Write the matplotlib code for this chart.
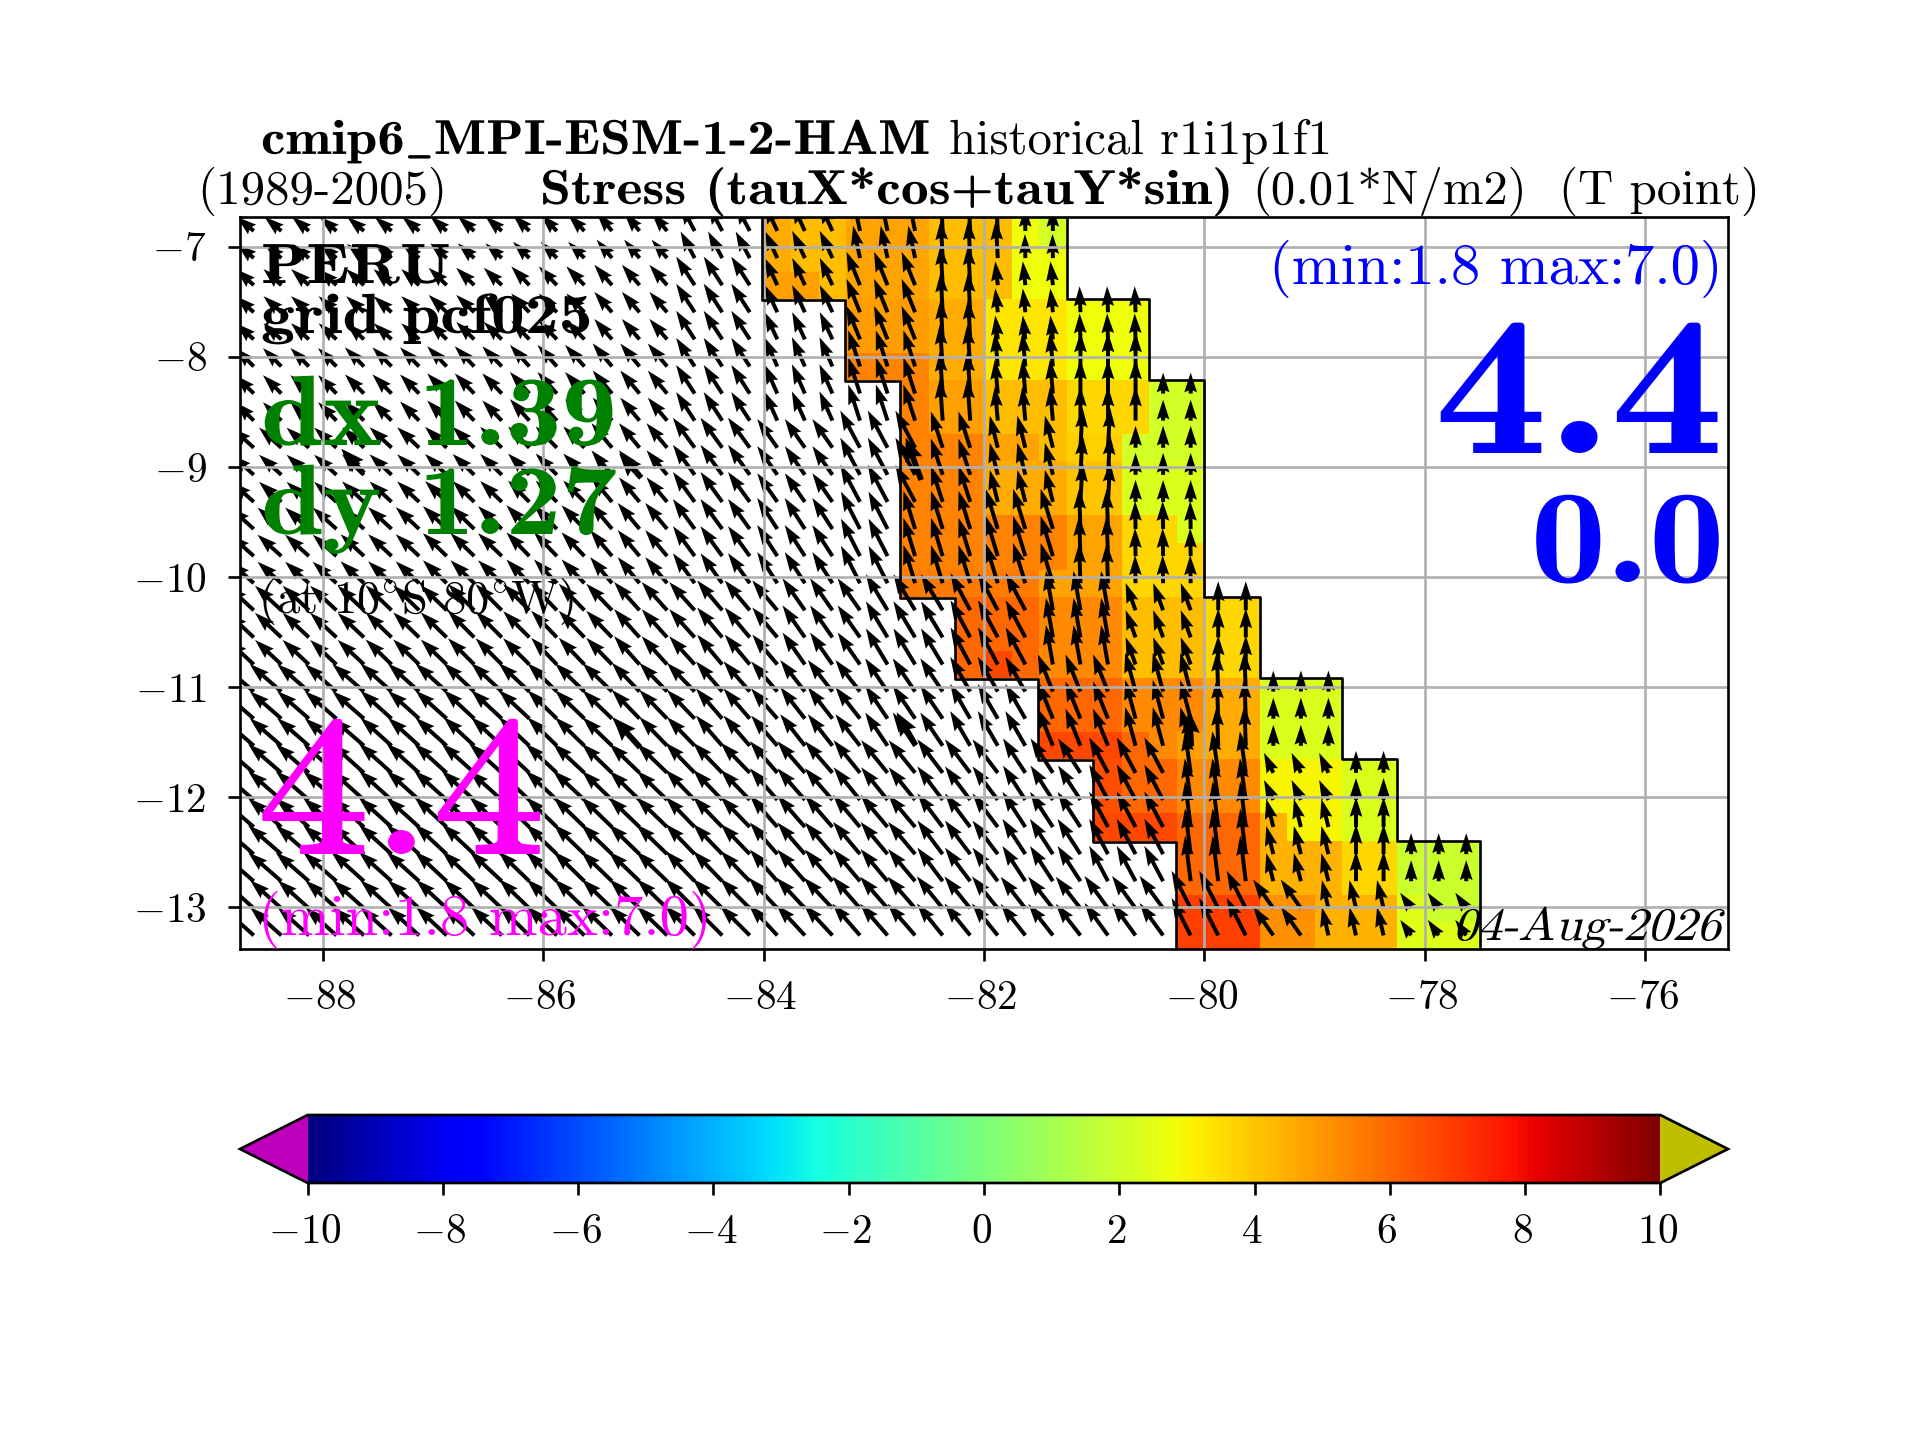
import numpy as np
import matplotlib
matplotlib.use('Agg')
import matplotlib.pyplot as plt
import matplotlib.patheffects as pe
from matplotlib.transforms import Affine2D, ScaledTranslation

plt.rcParams['font.family'] = 'cmr10'
plt.rcParams['mathtext.fontset'] = 'cm'
plt.rcParams['axes.unicode_minus'] = False
plt.rcParams['axes.formatter.use_mathtext'] = True

# parameters
x_ticks = [-88, -86, -84, -82, -80, -78, -76]
y_ticks = [-7, -8, -9, -10, -11, -12, -13]
cbar_ticks = [-10, -8, -6, -4, -2, 0, 2, 4, 6, 8, 10]

# first coloured column of each row, every row has 11 coloured columns
row_start = [19, 19, 19, 22, 22, 22, 24, 24, 24, 24, 24, 24, 24, 24,
             26, 26, 26, 29, 29, 29, 31, 31, 31, 34, 34, 34, 34]

# stress value, 11 per row from row_start
stress = [
    [4.6, 4.2, 4.2, 4.7, 4.7, 4.7, 4.2, 4.2, 4.2, 2.8, 2.1],
    [4.6, 4.2, 4.2, 4.7, 4.7, 4.7, 4.2, 4.2, 4.2, 2.8, 2.8],
    [4.8, 4.8, 4.2, 4.7, 4.7, 4.7, 4.2, 4.2, 4.2, 2.8, 2.8],
    [4.9, 4.9, 4.9, 4.6, 4.6, 3.3, 3.3, 3.3, 2.8, 2.8, 2.8],
    [4.9, 4.9, 4.9, 4.6, 4.6, 3.3, 3.3, 3.3, 2.8, 2.8, 2.8],
    [5.4, 5.4, 5.4, 4.6, 4.6, 3.3, 3.3, 3.3, 2.8, 2.8, 2.8],
    [5.4, 4.8, 4.8, 4.2, 4.2, 4.2, 3.6, 3.6, 3.6, 2.1, 2.1],
    [5.4, 4.8, 4.8, 4.2, 4.2, 4.2, 3.6, 3.6, 3.6, 2.1, 2.1],
    [5.4, 5.4, 5.4, 4.7, 4.7, 4.2, 3.8, 3.8, 2.1, 2.1, 2.1],
    [5.4, 5.4, 5.4, 4.6, 4.6, 4.6, 4.0, 4.0, 2.3, 2.3, 2.3],
    [5.4, 5.4, 5.4, 4.6, 4.6, 4.6, 4.0, 4.0, 2.3, 2.3, 2.3],
    [5.4, 5.4, 5.4, 5.4, 5.4, 5.4, 4.7, 4.7, 3.6, 3.6, 2.3],
    [5.4, 5.4, 5.4, 5.4, 5.4, 5.4, 4.7, 4.7, 3.6, 3.6, 3.6],
    [5.6, 5.6, 5.6, 5.6, 5.6, 4.7, 4.7, 4.7, 3.6, 3.6, 3.6],
    [6.0, 6.0, 6.0, 5.3, 5.3, 5.3, 4.2, 4.2, 4.2, 3.6, 3.6],
    [6.0, 6.0, 6.0, 5.3, 5.3, 5.3, 4.2, 4.2, 4.2, 3.6, 3.6],
    [6.0, 6.7, 6.0, 5.3, 5.3, 5.3, 4.2, 4.2, 4.2, 3.6, 3.6],
    [6.0, 6.0, 6.0, 5.3, 5.3, 5.3, 4.6, 4.6, 2.3, 2.3, 2.3],
    [6.0, 6.0, 6.0, 5.3, 5.3, 5.3, 4.6, 4.6, 2.3, 2.3, 2.3],
    [6.7, 6.7, 6.7, 6.0, 5.3, 4.8, 4.6, 4.6, 2.3, 2.3, 2.3],
    [6.5, 6.0, 6.0, 5.3, 5.3, 5.3, 3.0, 3.0, 3.0, 2.3, 2.3],
    [6.5, 6.0, 6.0, 5.3, 5.3, 5.3, 3.0, 3.0, 3.0, 2.3, 2.3],
    [6.7, 6.7, 6.7, 6.0, 6.0, 6.0, 4.4, 3.0, 3.0, 2.3, 2.3],
    [6.0, 6.0, 6.0, 4.4, 4.4, 4.4, 3.6, 3.6, 1.9, 1.9, 1.9],
    [6.0, 6.0, 6.0, 4.4, 4.4, 4.4, 3.6, 3.6, 1.9, 1.9, 1.9],
    [6.8, 6.8, 6.8, 5.1, 5.1, 4.4, 4.4, 4.4, 2.4, 1.9, 1.9],
    [6.8, 6.8, 6.8, 5.1, 5.1, 4.4, 4.4, 4.4, 2.4, 2.4, 2.4],
]

# arrows come in blocks: group of each row, then per group the first column of
# each block with the angle (deg west of north) and length of its arrows
arrow_group = [0, 0, 1, 1, 1, 2, 2, 2, 3, 3, 3, 4, 4, 4, 5, 5, 5, 6, 6, 6, 7, 7, 8, 8, 8, 9, 9]
arrow_edges = [
    [0, 1, 4, 7, 10, 13, 16, 19, 22, 25, 28],
    [0, 1, 4, 7, 10, 13, 16, 19, 22, 25, 27, 30],
    [0, 1, 4, 7, 10, 13, 16, 19, 22, 25, 27, 30, 33],
    [0, 1, 4, 7, 10, 13, 16, 19, 22, 25, 27, 30, 32],
    [0, 1, 4, 7, 10, 13, 16, 19, 22, 24, 27, 30, 32],
    [0, 2, 5, 8, 11, 14, 17, 20, 23, 26, 29, 32, 35],
    [0, 2, 5, 8, 11, 14, 17, 20, 23, 26, 29, 32, 35, 37],
    [0, 1, 4, 7, 10, 13, 16, 19, 22, 25, 28, 31, 34, 37, 40],
    [0, 1, 4, 7, 10, 13, 16, 19, 22, 25, 28, 31, 34, 37, 40, 42],
    [0, 1, 4, 7, 10, 13, 16, 19, 22, 25, 28, 31, 34, 37, 39, 42],
]
arrow_angle = [
    [50, 50, 50, 48, 45, 40, 28, 25, 12, 3, 1],
    [48, 48, 48, 46, 44, 41, 33, 25, 22, 3, 6, 2],
    [45, 45, 45, 44, 42, 40, 33, 24, 18, 4, 5, 0, 0],
    [48, 48, 47, 46, 45, 40, 36, 35, 28, 18, 14, -3, 0],
    [48, 48, 47, 46, 44, 40, 36, 33, 27, 17, 17, 2, 1],
    [47, 47, 46, 45, 44, 42, 40, 35, 31, 28, 10, 20, 0],
    [49, 49, 48, 47, 46, 44, 41, 38, 34, 30, 22, 15, 2, 0],
    [49, 49, 48, 48, 47, 46, 44, 41, 39, 37, 33, 28, 8, 25, 0],
    [49, 49, 48, 47, 46, 46, 44, 41, 40, 37, 33, 28, 7, 14, 0, 0],
    [48, 48, 48, 47, 46, 46, 45, 43, 41, 39, 38, 36, 27, 35, 13, 35],
]
arrow_len = [
    [2.2, 2.2, 2.2, 2.2, 2.3, 2.4, 3.0, 3.0, 3.3, 3.8, 2.4],
    [2.4, 2.4, 2.4, 2.5, 2.6, 2.7, 3.4, 3.0, 3.6, 4.0, 2.4, 2.6],
    [2.6, 2.6, 2.7, 2.8, 2.9, 3.0, 3.4, 3.2, 3.8, 4.2, 3.4, 3.4, 2.1],
    [3.0, 3.0, 3.0, 3.0, 3.0, 3.2, 3.7, 3.5, 4.2, 3.8, 3.3, 4.0, 2.2],
    [3.2, 3.2, 3.2, 3.3, 3.3, 3.4, 3.7, 3.7, 4.2, 4.0, 4.2, 4.0, 2.8],
    [3.6, 3.6, 3.6, 3.7, 3.7, 3.8, 3.9, 3.9, 4.2, 4.2, 4.0, 2.9, 2.9],
    [4.2, 4.2, 4.2, 4.2, 4.1, 4.0, 4.0, 4.0, 4.0, 4.0, 4.0, 4.0, 4.0, 2.1],
    [4.4, 4.4, 4.4, 4.4, 4.3, 4.2, 4.2, 4.2, 4.2, 4.2, 4.1, 4.0, 4.2, 2.2, 2.2],
    [4.4, 4.4, 4.4, 4.4, 4.3, 4.3, 4.2, 4.2, 4.2, 4.2, 4.2, 4.0, 4.6, 2.9, 3.0, 2.1],
    [4.2, 4.2, 4.2, 4.2, 4.2, 4.2, 4.2, 4.2, 4.2, 4.1, 4.0, 4.0, 4.2, 3.5, 2.9, 1.9],
]

# the few heavier arrows
big_lon = [-87.63, -85.11, -82.57, -85.12, -82.62, -80.12]
big_lat = [-9.06, -9.10, -9.12, -11.55, -11.53, -11.54]
big_angle = [42, 42, 20, 42, 30, 3]
big_len = [3.3, 3.3, 4.5, 4.0, 3.8, 3.6]

# grid
lon_edges = np.linspace(-88.75, -75.25, 55)
lat_edges = np.linspace(-6.735, -13.38, 28)
lon_c = 0.5 * (lon_edges[:-1] + lon_edges[1:])
lat_c = 0.5 * (lat_edges[:-1] + lat_edges[1:])

field = np.full((27, 54), np.nan)
xq, yq, uq, vq = [], [], [], []
for r in range(27):
    s = row_start[r]
    field[r, s:s + 11] = stress[r]
    g = arrow_group[r]
    for c in range(s + 11):
        b = np.searchsorted(arrow_edges[g], c, side='right') - 1
        a = np.deg2rad(arrow_angle[g][b])
        xq.append(lon_c[c])
        yq.append(lat_c[r])
        uq.append(-arrow_len[g][b] * np.sin(a))
        vq.append(arrow_len[g][b] * np.cos(a))

fig = plt.figure(figsize=(8, 6), dpi=240)
ax = fig.add_axes([0.125, 0.341, 0.775, 0.508])

cmap = plt.get_cmap('jet').with_extremes(under=(0.75, 0, 0.75), over=(0.75, 0.75, 0))
mesh = ax.pcolormesh(lon_edges, lat_edges, np.ma.masked_invalid(field), cmap=cmap, vmin=-10, vmax=10)

ax.quiver(xq, yq, uq, vq, units='inches', width=0.0165, headwidth=3.2, scale_units='inches', scale=24)
big_a = np.deg2rad(big_angle)
ax.quiver(big_lon, big_lat, -np.array(big_len) * np.sin(big_a), np.array(big_len) * np.cos(big_a),
          units='inches', width=0.024, headwidth=3.2, headlength=4, headaxislength=3.6,
          scale_units='inches', scale=24)

# coast, the left side sits slightly off the cell edges
left_x, left_y, right_x, right_y = [], [], [], []
for r in range(27):
    s = row_start[r]
    left_x += [lon_edges[s] - 0.01, lon_edges[s] - 0.01]
    left_y += [lat_edges[r] - 0.01, lat_edges[r + 1] - 0.01]
    right_x += [lon_edges[s + 11], lon_edges[s + 11]]
    right_y += [lat_edges[r], lat_edges[r + 1]]
ax.plot(left_x, left_y, color='k', lw=0.8, zorder=3)
ax.plot(right_x, right_y, color='k', lw=0.8, zorder=3)

ax.set_xlim(-88.75, -75.25)
ax.set_ylim(-13.38, -6.735)
ax.set_xticks(x_ticks)
ax.set_xticklabels([f'${t}$' for t in x_ticks], fontsize=12.4)
ax.set_yticks(y_ticks)
ax.set_yticklabels([f'${t}$' for t in y_ticks], fontsize=12.4)
ax.tick_params(axis='x', pad=5.6)
ax.tick_params(axis='y', pad=6.5)
ax.grid(True)

cax = fig.add_axes([0.125, 1 - 1183 / 1440, 0.775, 68 / 1440])
cb = fig.colorbar(mesh, cax=cax, orientation='horizontal', extend='both', ticks=cbar_ticks)
cb.ax.set_xticklabels([f'${t}$' for t in cbar_ticks], fontsize=12.4)
cb.ax.tick_params(axis='x', pad=5.6)

# mathtext labels sit a little to the right of the tick
shift = ScaledTranslation(-3 / 240, 0, fig.dpi_scale_trans)
for lab in ax.get_xticklabels() + cb.ax.get_xticklabels():
    lab.set_transform(lab.get_transform() + shift)


class Warp(pe.AbstractPathEffect):
    # cmb10 is narrower than the bold in the picture and there is no upright-to-slanted
    # roman, so widen or slant the glyphs around the text anchor
    def __init__(self, x0, y0, sx=1.0, slant=0.0, lw=0.0):
        super().__init__()
        self.warp = Affine2D().translate(-x0, -y0).skew(slant, 0).scale(sx, 1).translate(x0, y0)
        self.lw = lw

    def draw_path(self, renderer, gc, tpath, affine, rgbFace=None):
        gc0 = renderer.new_gc()
        gc0.copy_properties(gc)
        if self.lw > 0:
            gc0.set_linewidth(self.lw)
            gc0.set_foreground(rgbFace)
        renderer.draw_path(gc0, tpath, affine + self.warp, rgbFace)
        gc0.restore()


def put(x, y, s, sx=1.0, slant=0.0, lw=0.0, **kw):
    # x, y in pixels of the final picture, y to the baseline
    t = fig.text(x / 1920, 1 - y / 1440, s, va='baseline', **kw)
    if sx != 1.0 or slant != 0.0 or lw > 0:
        t.set_path_effects([Warp(x, 1440 - y, sx, slant, lw)])


# titles
put(261, 154, r'cmip6$\_$MPI-ESM-1-2-HAM', sx=1.125, fontsize=14.7, family='cmb10')
put(949, 154, 'historical r1i1p1f1', fontsize=14.6)
put(197, 204, '(1989-2005)', fontsize=14.7)
put(540, 204, 'Stress (tauX*cos+tauY*sin)', sx=1.137, fontsize=14.7, family='cmb10')
put(1252, 204, '(0.01*N/m2)', fontsize=14.6)
put(1559, 204, '(T point)', fontsize=14.7)

# labels inside the map
put(261, 283, 'PERU', sx=1.17, fontsize=17, family='cmb10', zorder=5)
put(261, 333, 'grid pcf025', sx=1.195, fontsize=17, family='cmb10', zorder=5)
put(261, 445, 'dx 1.39', sx=1.116, fontsize=30, family='cmb10', color='green', zorder=5)
put(261, 534, 'dy 1.27', sx=1.116, fontsize=30, family='cmb10', color='green', zorder=5)
put(258, 613, r'(at 10$^{\circ}$S 80$^{\circ}$W)', fontsize=14, zorder=5)
put(257, 853, '4.4', sx=1.13, lw=0.6, fontsize=60, color='magenta', zorder=5)
put(258, 935, '(min:1.8 max:7.0)', fontsize=17.6, color='magenta', zorder=5)
put(1723, 284, '(min:1.8 max:7.0)', fontsize=17.6, color='blue', ha='right', zorder=5)
put(1724, 453, '4.4', sx=1.134, fontsize=60, color='blue', family='cmb10', ha='right', zorder=5)
put(1725, 582, '0.0', sx=1.143, fontsize=40, color='blue', family='cmb10', ha='right', zorder=5)
put(1721, 940, '04-Aug-2026', sx=1.05, slant=0.25, fontsize=14, ha='right', zorder=5)

plt.savefig('out.png', dpi=240)
